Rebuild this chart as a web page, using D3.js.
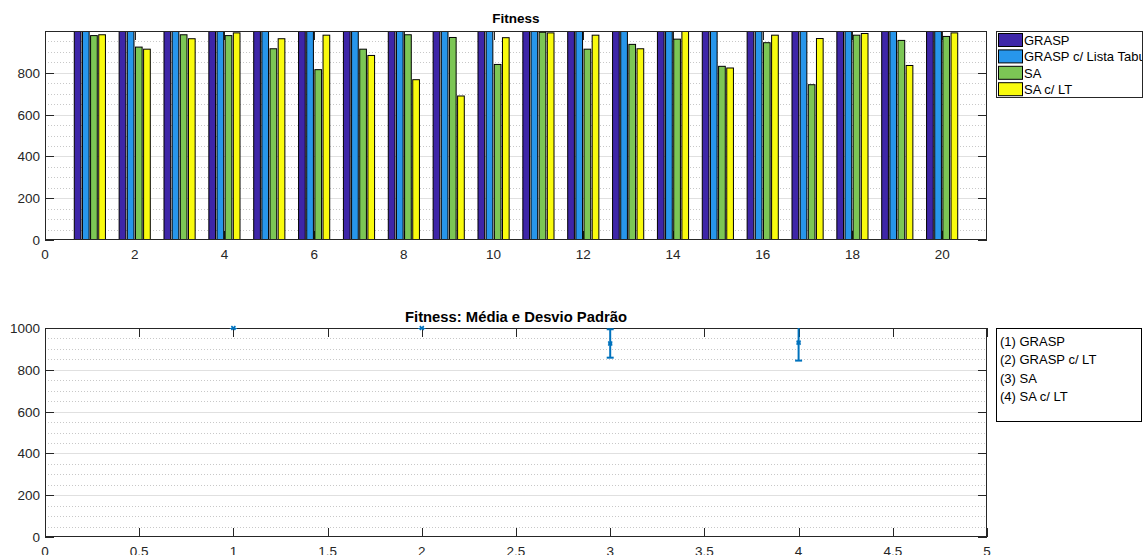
<!DOCTYPE html>
<html>
<head>
<meta charset="utf-8">
<script src="https://cdn.jsdelivr.net/npm/d3@7"></script>
<style>
  html, body { margin: 0; padding: 0; background: #fff; }
  svg { display: block; font-family: "Liberation Sans", Arial, Helvetica, sans-serif; }
</style>
</head>
<body>
<svg id="chart" width="1145" height="555"></svg>
<script>
// Instances 1..20
const instances = d3.range(1, 21);

// Best fitness per instance, one array per method
const graspValues   = [1000,1000,1000,1000,1000,1000,1000,1000,1000,1000,1000,1000,1000,1000,1000,1000,1000,1000,1000,1000];
const graspLtValues = [1000,1000,1000,1000,1000,1000,1000,1000,1000,1000,1000,1000,1000,1000,1000,1000,1000,1000,1000,1000];
const saValues      = [978,923,982,978,915,815,913,982,969,840,994,913,936,961,831,944,743,980,955,974];
const saLtValues    = [982,913,963,991,963,980,883,767,689,968,991,980,915,1000,823,980,964,988,835,991];

const seriesNames  = ["GRASP", "GRASP c/ Lista Tabu", "SA", "SA c/ LT"];
const seriesColors = ["#3e26a8", "#2796eb", "#7cc655", "#f9fb0e"];

// Mean and standard deviation per method
const statLabels = ["(1) GRASP", "(2) GRASP c/ LT", "(3) SA", "(4) SA c/ LT"];
const statX      = [1, 2, 3, 4];
const statMeans  = [1000, 1000, 926, 930];
const statStds   = [0, 0, 68, 86];

// Tick values
const topXTicks    = d3.range(0, 21, 2);
const topYTicks    = [0, 200, 400, 600, 800];
const bottomXTicks = d3.range(0, 5.01, 0.5);
const bottomYTicks = [0, 200, 400, 600, 800, 1000];
const minorYTicks  = d3.range(50, 1000, 50);

const svg = d3.select("#chart");
const axisColor = "#262626";
const tickLen = 9;
const tickFont = 13.5;
const fmt = d => String(+d.toFixed(2));

function panel(box, xDomain, yDomain, xTicks, yTicks, id) {
  const x = d3.scaleLinear().domain(xDomain).range([box.left, box.right]);
  const y = d3.scaleLinear().domain(yDomain).range([box.bottom, box.top]);
  const g = svg.append("g");

  svg.append("clipPath").attr("id", id)
    .append("rect")
    .attr("x", box.left).attr("y", box.top)
    .attr("width", box.right - box.left).attr("height", box.bottom - box.top);

  // minor grid (dotted)
  g.append("g").selectAll("line")
    .data(minorYTicks.filter(v => v > yDomain[0] && v < yDomain[1] && !yTicks.includes(v)))
    .join("line")
    .attr("x1", box.left).attr("x2", box.right)
    .attr("y1", d => Math.round(y(d)) + 0.5).attr("y2", d => Math.round(y(d)) + 0.5)
    .attr("stroke", "#c8c8c8").attr("stroke-width", 1).attr("stroke-dasharray", "1,2");

  // major grid
  g.append("g").selectAll("line")
    .data(yTicks.filter(v => v > yDomain[0] && v < yDomain[1]))
    .join("line")
    .attr("x1", box.left).attr("x2", box.right)
    .attr("y1", d => Math.round(y(d)) + 0.5).attr("y2", d => Math.round(y(d)) + 0.5)
    .attr("stroke", "#e0e0e0").attr("stroke-width", 1);

  // x ticks (inward, bottom and top)
  const xt = g.append("g");
  xt.selectAll("line.b").data(xTicks).join("line").attr("class", "b")
    .attr("x1", d => Math.round(x(d)) + 0.5).attr("x2", d => Math.round(x(d)) + 0.5)
    .attr("y1", box.bottom).attr("y2", box.bottom - tickLen)
    .attr("stroke", axisColor);
  xt.selectAll("line.t").data(xTicks).join("line").attr("class", "t")
    .attr("x1", d => Math.round(x(d)) + 0.5).attr("x2", d => Math.round(x(d)) + 0.5)
    .attr("y1", box.top).attr("y2", box.top + tickLen)
    .attr("stroke", axisColor);

  // y ticks (inward, left and right)
  const yt = g.append("g");
  yt.selectAll("line.l").data(yTicks).join("line").attr("class", "l")
    .attr("x1", box.left).attr("x2", box.left + tickLen)
    .attr("y1", d => Math.round(y(d)) + 0.5).attr("y2", d => Math.round(y(d)) + 0.5)
    .attr("stroke", axisColor);
  yt.selectAll("line.r").data(yTicks).join("line").attr("class", "r")
    .attr("x1", box.right - tickLen).attr("x2", box.right)
    .attr("y1", d => Math.round(y(d)) + 0.5).attr("y2", d => Math.round(y(d)) + 0.5)
    .attr("stroke", axisColor);

  // tick labels
  g.append("g").selectAll("text").data(xTicks).join("text")
    .attr("x", d => x(d)).attr("y", box.bottom + 19)
    .attr("text-anchor", "middle").attr("font-size", tickFont).attr("fill", axisColor)
    .text(fmt);
  g.append("g").selectAll("text").data(yTicks).join("text")
    .attr("x", box.left - 5).attr("y", d => y(d) + 5)
    .attr("text-anchor", "end").attr("font-size", tickFont).attr("fill", axisColor)
    .text(fmt);

  return { x, y, g };
}

function frame(box) {
  svg.append("rect")
    .attr("x", box.left + 0.5).attr("y", box.top + 0.5)
    .attr("width", box.right - box.left - 1).attr("height", box.bottom - box.top - 1)
    .attr("fill", "none").attr("stroke", axisColor).attr("stroke-width", 1);
}

// ---------- Top panel: grouped bars ----------
const topBox = { left: 45, right: 987, top: 31, bottom: 240 };
const barPanel = panel(topBox, [0, 21], [0, 1000], topXTicks, topYTicks, "clipTop");

const seriesValues = [graspValues, graspLtValues, saValues, saLtValues];
const nSeries = seriesValues.length;
const groupWidth = Math.min(0.8, nSeries / (nSeries + 1.5));
const pitch = groupWidth / nSeries;
const barW = pitch * 0.82;

const bars = svg.append("g").attr("clip-path", "url(#clipTop)");
seriesValues.forEach((vals, si) => {
  const off = (si - (nSeries - 1) / 2) * pitch;
  bars.append("g").selectAll("rect")
    .data(instances.map((inst, i) => ({ inst, v: vals[i] })))
    .join("rect")
    .attr("x", d => barPanel.x(d.inst + off - barW / 2))
    .attr("width", barPanel.x(barW) - barPanel.x(0))
    .attr("y", d => barPanel.y(d.v))
    .attr("height", d => barPanel.y(0) - barPanel.y(d.v))
    .attr("fill", seriesColors[si])
    .attr("stroke", "#000").attr("stroke-width", 1);
});
frame(topBox);

svg.append("text")
  .attr("x", (topBox.left + topBox.right) / 2).attr("y", 23)
  .attr("text-anchor", "middle").attr("font-size", 13.5).attr("font-weight", "bold")
  .attr("fill", "#000").text("Fitness");

// top legend
const legTop = { x: 996, y: 31, w: 147, h: 67 };
svg.append("clipPath").attr("id", "clipLegTop")
  .append("rect").attr("x", legTop.x).attr("y", legTop.y).attr("width", legTop.w - 1).attr("height", legTop.h);
svg.append("rect")
  .attr("x", legTop.x + 0.5).attr("y", legTop.y + 0.5)
  .attr("width", legTop.w - 1).attr("height", legTop.h - 1)
  .attr("fill", "#fff").attr("stroke", axisColor);
const legTopG = svg.append("g").attr("clip-path", "url(#clipLegTop)");
seriesNames.forEach((name, i) => {
  const ry = legTop.y + 2.5 + i * 16.4;
  legTopG.append("rect")
    .attr("x", 998.5).attr("y", ry)
    .attr("width", 24).attr("height", 13)
    .attr("fill", seriesColors[i]).attr("stroke", "#000");
  legTopG.append("text")
    .attr("x", 1024).attr("y", ry + 11.5)
    .attr("font-size", 13).attr("fill", "#000").text(name);
});

// ---------- Bottom panel: mean and standard deviation ----------
const botBox = { left: 45, right: 987, top: 328, bottom: 537 };
const statPanel = panel(botBox, [0, 5], [0, 1000], bottomXTicks, bottomYTicks, "clipBot");
frame(botBox);

const errColor = "#0072bd";
const errG = svg.append("g").attr("clip-path", "url(#clipBot)");
const stats = statX.map((sx, i) => ({ x: sx, m: statMeans[i], s: statStds[i] }));
errG.selectAll("line.v").data(stats).join("line").attr("class", "v")
  .attr("x1", d => statPanel.x(d.x)).attr("x2", d => statPanel.x(d.x))
  .attr("y1", d => statPanel.y(d.m - d.s)).attr("y2", d => statPanel.y(d.m + d.s))
  .attr("stroke", errColor).attr("stroke-width", 2);
["lo", "hi"].forEach(k => {
  errG.selectAll("line." + k).data(stats).join("line").attr("class", k)
    .attr("x1", d => statPanel.x(d.x) - 3.5).attr("x2", d => statPanel.x(d.x) + 3.5)
    .attr("y1", d => statPanel.y(k === "lo" ? d.m - d.s : d.m + d.s))
    .attr("y2", d => statPanel.y(k === "lo" ? d.m - d.s : d.m + d.s))
    .attr("stroke", errColor).attr("stroke-width", 2);
});
svg.append("g").selectAll("path").data(stats).join("path")
  .attr("d", d => {
    const cx = statPanel.x(d.x), cy = statPanel.y(d.m), r = 2;
    return `M${cx - r},${cy - r}L${cx + r},${cy + r}M${cx - r},${cy + r}L${cx + r},${cy - r}M${cx - r},${cy}L${cx + r},${cy}`;
  })
  .attr("stroke", errColor).attr("stroke-width", 1.6).attr("fill", "none");

svg.append("text")
  .attr("x", (botBox.left + botBox.right) / 2).attr("y", 322)
  .attr("text-anchor", "middle").attr("font-size", 14.8).attr("font-weight", "bold")
  .attr("fill", "#000").text("Fitness: Média e Desvio Padrão");

// bottom legend
const legBot = { x: 996, y: 328, w: 146, h: 94 };
svg.append("rect")
  .attr("x", legBot.x + 0.5).attr("y", legBot.y + 0.5)
  .attr("width", legBot.w - 1).attr("height", legBot.h - 1)
  .attr("fill", "#fff").attr("stroke", "#000");
svg.append("g").selectAll("text").data(statLabels).join("text")
  .attr("x", 1000).attr("y", (d, i) => 345.5 + i * 18.6)
  .attr("font-size", 13).attr("fill", "#000").text(d => d);
</script>
</body>
</html>
